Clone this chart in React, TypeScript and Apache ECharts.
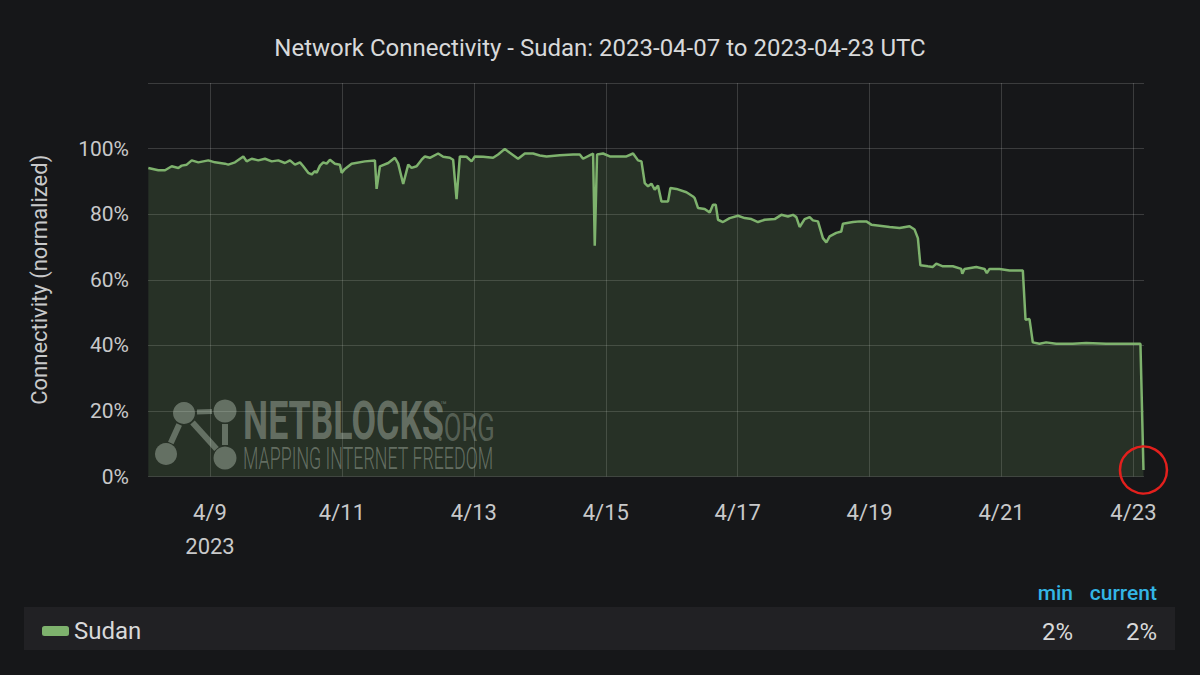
import React, { useEffect, useRef } from "react";
import * as echarts from "echarts";

const titleText = "Network Connectivity - Sudan: 2023-04-07 to 2023-04-23 UTC";
const seriesName = "Sudan";
const yAxisName = "Connectivity (normalized)";
const monthNumber = 4;
const yearLabel = "2023";
const xTickDays = [9, 11, 13, 15, 17, 19, 21, 23];
const xMinDay = 8.06;
const xMaxDay = 23.16;
const yMax = 120;
const yInterval = 20;
const legendHeaders = ["min", "current"];

// fractional day of April 2023 (UTC)
const days = [
  8.065, 8.217, 8.318, 8.42, 8.52, 8.571, 8.647, 8.723, 8.823, 8.974,
  9.076, 9.227, 9.277, 9.379, 9.505, 9.556, 9.632, 9.732, 9.833, 9.935,
  10.035, 10.136, 10.212, 10.288, 10.364, 10.414, 10.489, 10.541, 10.591, 10.617,
  10.667, 10.717, 10.768, 10.818, 10.894, 10.97, 10.995, 11.045, 11.147, 11.348,
  11.5, 11.526, 11.576, 11.702, 11.803, 11.853, 11.929, 12.005, 12.056, 12.132,
  12.208, 12.258, 12.333, 12.459, 12.535, 12.636, 12.686, 12.738, 12.788, 12.889,
  12.965, 13.015, 13.141, 13.292, 13.368, 13.47, 13.545, 13.671, 13.773, 13.898,
  14.0, 14.102, 14.303, 14.505, 14.606, 14.656, 14.783, 14.808, 14.833, 14.868,
  14.959, 15.061, 15.314, 15.414, 15.489, 15.541, 15.591, 15.641, 15.692, 15.742,
  15.792, 15.844, 15.944, 15.98, 16.071, 16.223, 16.323, 16.348, 16.398, 16.5,
  16.576, 16.626, 16.667, 16.702, 16.777, 16.879, 17.005, 17.106, 17.208, 17.308,
  17.409, 17.561, 17.662, 17.762, 17.838, 17.889, 17.939, 18.015, 18.091, 18.141,
  18.217, 18.292, 18.344, 18.394, 18.495, 18.571, 18.595, 18.747, 18.848, 18.95,
  19.026, 19.152, 19.303, 19.455, 19.606, 19.682, 19.732, 19.77, 19.883, 19.959,
  20.011, 20.111, 20.262, 20.389, 20.405, 20.439, 20.617, 20.742, 20.777, 20.818,
  20.97, 21.121, 21.323, 21.364, 21.424, 21.474, 21.576, 21.677, 21.829, 22.08,
  22.283, 22.586, 22.889, 23.106, 23.152,
];

// connectivity, percent
const values = [
  94.1, 93.4, 93.4, 94.6, 94.1, 94.8, 95.1, 96.4, 95.8, 96.4,
  95.8, 95.4, 95.1, 95.8, 97.6, 96.1, 96.9, 96.4, 96.9, 96.1,
  96.4, 95.6, 96.4, 95.1, 95.8, 94.6, 92.6, 92.1, 93.1, 92.6,
  94.8, 95.8, 95.4, 96.6, 95.4, 95.1, 92.6, 93.8, 95.4, 96.1,
  96.4, 87.7, 94.6, 95.6, 97.2, 95.4, 89.2, 95.1, 94.1, 94.6,
  96.6, 97.6, 97.2, 98.5, 97.5, 97.2, 96.6, 84.6, 97.6, 97.5,
  96.1, 97.6, 97.5, 97.2, 98.2, 99.9, 98.7, 96.9, 98.5, 98.5,
  97.9, 97.6, 98.0, 98.2, 98.2, 96.9, 98.2, 98.5, 70.4, 98.2,
  98.5, 97.6, 97.6, 98.5, 96.4, 96.1, 89.5, 88.5, 89.3, 87.5,
  88.7, 83.9, 83.9, 88.0, 87.7, 86.7, 85.4, 84.9, 81.9, 81.6,
  80.5, 82.9, 82.9, 78.3, 77.6, 78.8, 79.5, 78.8, 78.5, 77.6,
  78.3, 78.5, 79.8, 79.3, 79.8, 79.1, 76.1, 78.5, 79.1, 78.1,
  77.8, 72.7, 71.4, 73.2, 74.3, 74.7, 77.1, 77.6, 77.8, 77.8,
  76.8, 76.5, 76.1, 75.8, 76.3, 75.3, 72.7, 64.4, 64.1, 63.9,
  64.9, 64.1, 64.1, 63.3, 61.8, 63.3, 63.9, 63.3, 62.0, 63.3,
  63.3, 62.8, 62.8, 47.8, 48.0, 40.9, 40.5, 40.9, 40.5, 40.5,
  40.7, 40.5, 40.5, 40.5, 2,
];

const BG = "#161719";
const GREEN = "#7eb26d";
const TEXT = "#d8d9da";
const TICK_TEXT = "#c8c9ca";
const GRID = "rgba(255,255,255,0.16)";
const WM = "rgba(200,204,200,0.42)";
const FONT = "Roboto, 'Noto Sans', sans-serif";

export default function App() {
  const ref = useRef<HTMLDivElement>(null);

  useEffect(() => {
    if (!ref.current) return;
    const chart = echarts.init(ref.current, undefined, { renderer: "svg" });
    const data = days.map((d, i) => [d, values[i]]);
    const minVal = Math.min(...values);
    const curVal = values[values.length - 1];

    const option: any = {
      animation: false,
      backgroundColor: BG,
      textStyle: { fontFamily: FONT },
      title: {
        text: titleText,
        left: "center",
        top: 31,
        textStyle: { color: TEXT, fontSize: 24, fontWeight: "normal", fontFamily: FONT },
      },
      legend: {
        data: [seriesName],
        left: 37,
        top: 614,
        icon: "roundRect",
        itemWidth: 27,
        itemHeight: 10,
        selectedMode: false,
        textStyle: { color: TEXT, fontSize: 24, fontFamily: FONT, lineHeight: 24 },
      },
      grid: { left: 148, right: 56, top: 83, bottom: 198.5, containLabel: false },
      xAxis: {
        type: "value",
        min: xMinDay,
        max: xMaxDay,
        axisLine: { show: false },
        axisTick: { show: false, customValues: xTickDays },
        axisLabel: {
          customValues: xTickDays,
          color: TICK_TEXT,
          fontSize: 22,
          lineHeight: 34,
          margin: 19,
          fontFamily: FONT,
          formatter: (v: number) =>
            Math.round(v) === xTickDays[0]
              ? `${monthNumber}/${Math.round(v)}\n${yearLabel}`
              : `${monthNumber}/${Math.round(v)}`,
        },
        splitLine: { show: true, lineStyle: { color: GRID, width: 1 } },
      },
      yAxis: {
        type: "value",
        min: 0,
        max: yMax,
        interval: yInterval,
        name: yAxisName,
        nameLocation: "middle",
        nameRotate: 90,
        nameGap: 98,
        nameTextStyle: { color: TICK_TEXT, fontSize: 22, fontFamily: FONT },
        axisLine: { show: false },
        axisTick: { show: false },
        axisLabel: {
          color: TICK_TEXT,
          fontSize: 21,
          margin: 19,
          fontFamily: FONT,
          formatter: (v: number) => (v >= yMax ? "" : `${v}%`),
        },
        splitLine: { show: true, lineStyle: { color: GRID, width: 1 } },
      },
      series: [
        {
          name: seriesName,
          type: "line",
          data,
          showSymbol: false,
          color: GREEN,
          lineStyle: { color: GREEN, width: 2.5 },
          areaStyle: { color: "rgba(126,178,109,0.24)" },
          markPoint: {
            silent: true,
            data: [{ coord: [days[days.length - 1], values[values.length - 1]] }],
            symbol: "circle",
            symbolSize: 47,
            itemStyle: { color: "rgba(0,0,0,0)", borderColor: "#e3201d", borderWidth: 2.5 },
            label: { show: false },
          },
        },
      ],
      graphic: [
        // legend band
        {
          type: "rect",
          z: -10,
          shape: { x: 24, y: 607, width: 1151, height: 43 },
          style: { fill: "#212124" },
          silent: true,
        },
        {
          type: "text",
          x: 1073,
          y: 593,
          style: { text: legendHeaders[0], fill: "#33b5e5", fontSize: 21, fontFamily: FONT, fontWeight: 500, align: "right", verticalAlign: "middle" },
        },
        {
          type: "text",
          x: 1157,
          y: 593,
          style: { text: legendHeaders[1], fill: "#33b5e5", fontSize: 21, fontFamily: FONT, fontWeight: 500, align: "right", verticalAlign: "middle" },
        },
        {
          type: "text",
          x: 1073,
          y: 632,
          style: { text: `${Math.round(minVal)}%`, fill: TEXT, fontSize: 24, fontFamily: FONT, align: "right", verticalAlign: "middle" },
        },
        {
          type: "text",
          x: 1157,
          y: 632,
          style: { text: `${Math.round(curVal)}%`, fill: TEXT, fontSize: 24, fontFamily: FONT, align: "right", verticalAlign: "middle" },
        },
        // watermark
        {
          type: "group",
          silent: true,
          z: 1,
          children: [
            { type: "circle", shape: { cx: 184, cy: 413, r: 11 }, style: { fill: WM } },
            { type: "circle", shape: { cx: 225, cy: 411, r: 11.5 }, style: { fill: WM } },
            { type: "circle", shape: { cx: 166, cy: 454, r: 11 }, style: { fill: WM } },
            { type: "circle", shape: { cx: 225, cy: 458, r: 11.5 }, style: { fill: WM } },
            { type: "line", shape: { x1: 197, y1: 412, x2: 212, y2: 411.5 }, style: { stroke: WM, lineWidth: 5 } },
            { type: "line", shape: { x1: 179.2, y1: 424.5, x2: 170.8, y2: 443 }, style: { stroke: WM, lineWidth: 6 } },
            { type: "line", shape: { x1: 192.5, y1: 422.5, x2: 216.5, y2: 449 }, style: { stroke: WM, lineWidth: 6 } },
            { type: "line", shape: { x1: 225, y1: 424, x2: 225, y2: 445 }, style: { stroke: WM, lineWidth: 6 } },
            {
              type: "text",
              x: 243,
              y: 421,
              scaleX: 0.66,
              style: { text: "NETBLOCKS", fill: WM, fontSize: 54, fontWeight: "bold", fontFamily: FONT, verticalAlign: "middle" },
            },
            {
              type: "text",
              x: 440,
              y: 405,
              style: { text: "™", fill: WM, fontSize: 11, fontFamily: FONT, verticalAlign: "middle" },
            },
            {
              type: "text",
              x: 437,
              y: 427,
              scaleX: 0.66,
              style: { text: ".ORG", fill: "rgba(200,204,200,0.32)", fontSize: 39, fontFamily: FONT, verticalAlign: "middle" },
            },
            {
              type: "text",
              x: 243,
              y: 459,
              scaleX: 0.575,
              style: { text: "MAPPING INTERNET FREEDOM", fill: WM, fontSize: 31, fontWeight: 300, fontFamily: FONT, verticalAlign: "middle" },
            },
          ],
        },
      ],
    };

    chart.setOption(option);
    return () => chart.dispose();
  }, []);

  return (
    <div
      ref={ref}
      style={{ position: "fixed", left: 0, top: 0, width: 1200, height: 675, background: BG }}
    />
  );
}
